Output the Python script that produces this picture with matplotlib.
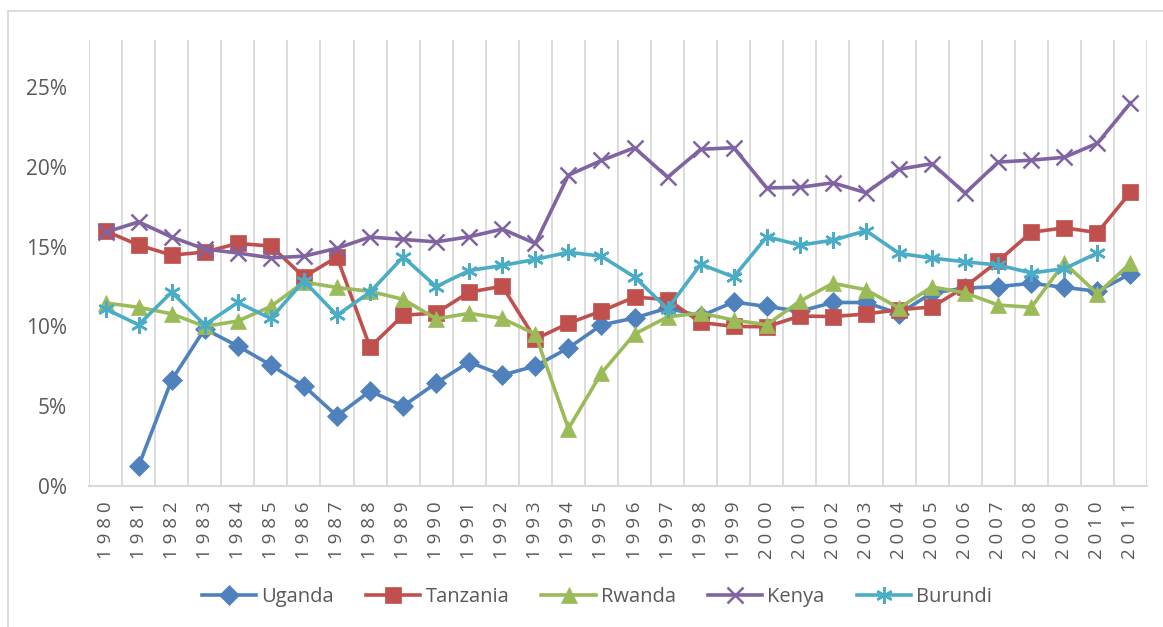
import numpy as np
import matplotlib.pyplot as plt
from matplotlib.lines import Line2D

# --- data (percent) ---
years = list(range(1980, 2012))

uganda = [np.nan, 1.25, 6.64, 9.84, 8.77, 7.58, 6.27, 4.39, 5.95, 5.01,
          6.45, 7.77, 6.95, 7.52, 8.65, 10.09, 10.53, 11.15, 10.65, 11.53,
          11.25, 10.95, 11.5, 11.5, 10.8, 12.1, 12.4, 12.5, 12.7, 12.45,
          12.2, 13.3]
tanzania = [15.98, 15.1, 14.47, 14.66, 15.2, 15.04, 13.1, 14.35, 8.7, 10.7,
            10.84, 12.15, 12.52, 9.2, 10.2, 10.96, 11.84, 11.68, 10.25, 10.0,
            9.98, 10.65, 10.62, 10.78, 11.05, 11.22, 12.48, 14.1, 15.9, 16.18,
            15.88, 18.4]
rwanda = [11.47, 11.2, 10.79, 10.0, 10.34, 11.25, 12.78, 12.44, 12.2, 11.7,
          10.48, 10.82, 10.5, 9.52, 3.6, 7.08, 9.52, 10.6, 10.84, 10.4,
          10.1, 11.58, 12.7, 12.3, 11.15, 12.48, 12.1, 11.34, 11.2, 13.98,
          12.05, 13.96]
kenya = [15.9, 16.55, 15.6, 14.85, 14.6, 14.3, 14.4, 14.9, 15.6, 15.45,
         15.3, 15.62, 16.1, 15.2, 19.48, 20.4, 21.2, 19.35, 21.1, 21.2,
         18.68, 18.72, 19.0, 18.38, 19.85, 20.2, 18.35, 20.3, 20.42, 20.6,
         21.48, 24.0]
burundi = [11.1, 10.1, 12.15, 10.1, 11.5, 10.5, 12.85, 10.7, 12.15, 14.35,
           12.5, 13.5, 13.82, 14.2, 14.65, 14.4, 13.1, 11.1, 13.9, 13.1,
           15.62, 15.1, 15.4, 16.0, 14.58, 14.28, 14.05, 13.85, 13.35, 13.62,
           14.6, np.nan]

names = ['Uganda', 'Tanzania', 'Rwanda', 'Kenya', 'Burundi']
colors = ['#4F81BD', '#C0504D', '#9BBB59', '#8064A2', '#4BACC6']
markers = ['D', 's', '^', 'x', (6, 2, 0)]
msizes = [10, 11, 11.5, 11, 12]
series = [uganda, tanzania, rwanda, kenya, burundi]

plt.rcParams['font.family'] = ['Open Sans', 'DejaVu Sans']
txt = '#595959'
grid = '#D9D9D9'

fig = plt.figure(figsize=(11.63, 6.27), dpi=100)
W, H = 1163, 627
ax = fig.add_axes([89 / W, 1 - 486 / H, (1147 - 89) / W, (486 - 40) / H])

x = np.arange(len(years))
for vals, name, c, m, ms in zip(series, names, colors, markers, msizes):
    ax.plot(x, np.array(vals, dtype=float) / 100, color=c, lw=2.6,
            marker=m, markersize=ms, markeredgewidth=1.8 if m in ('x', (6, 2, 0)) else 0.5,
            markeredgecolor=c, markerfacecolor=c, label=name, zorder=3)

ax.set_xlim(-0.5, len(years) - 0.5)
ax.set_ylim(0, 0.2795)
ax.set_yticks([0, 0.05, 0.10, 0.15, 0.20, 0.25])
ax.set_yticklabels(['0%', '5%', '10%', '15%', '20%', '25%'])
ax.set_xticks(x)
ax.set_xticklabels([' '.join(str(y)) for y in years], rotation=90)
ax.tick_params(axis='x', length=0, pad=11, labelsize=13.5, colors=txt)
ax.tick_params(axis='y', length=0, pad=16, labelsize=15, colors=txt)

# vertical grid between categories
for b in np.arange(-0.5, len(years), 1.0):
    ax.axvline(b, color=grid, lw=1.3, zorder=1)

for s in ['top', 'right', 'left']:
    ax.spines[s].set_visible(False)
ax.spines['bottom'].set_color(grid)
ax.spines['bottom'].set_linewidth(1.5)

# outer chart border (left and top edges visible)
fig.add_artist(Line2D([8 / W, 8 / W], [0, 1 - 11 / H], transform=fig.transFigure,
                      color=grid, lw=1.3))
fig.add_artist(Line2D([8 / W, 1], [1 - 11 / H, 1 - 11 / H], transform=fig.transFigure,
                      color=grid, lw=1.3))

leg = fig.legend(loc='center', bbox_to_anchor=(597 / W, 1 - 597 / H), ncol=5,
                 frameon=False, fontsize=14.5, handlelength=2.7, handletextpad=0.25,
                 columnspacing=1.6, labelcolor=txt)

fig.savefig('out.png', dpi=100)
